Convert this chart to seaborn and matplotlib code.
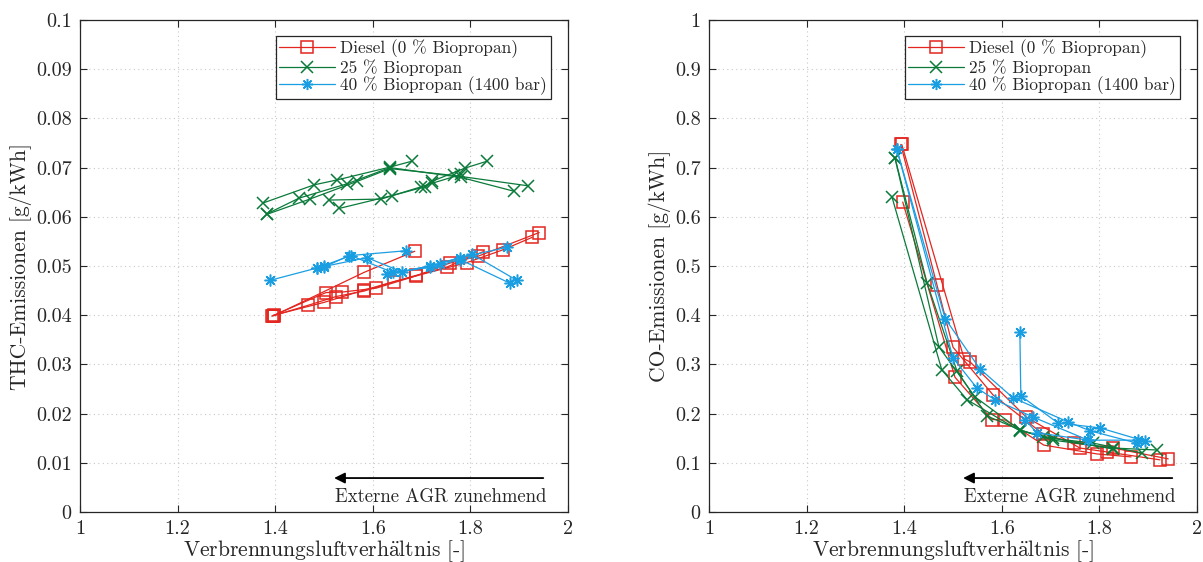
import numpy as np
import pandas as pd
import seaborn as sns
import matplotlib
matplotlib.use('Agg')
from matplotlib import pyplot as plt
from matplotlib.lines import Line2D

# ---- data ----
fuels = ['Diesel (0 % Biopropan)', '25 % Biopropan', '40 % Biopropan (1400 bar)']
colors = ['#e3261f', '#0a7a3a', '#1a9ee2']
markers = ['s', 'x', (8, 2, 0)]

# THC, left panel: each sweep = one AGR variation
thc_diesel_lam = [
    [1.686, 1.582, 1.397],
    [1.941, 1.816, 1.758, 1.689, 1.607, 1.537, 1.504, 1.395],
    [1.926, 1.867, 1.793, 1.643, 1.582, 1.525, 1.467, 1.393],
    [1.826, 1.752, 1.689, 1.582, 1.500, 1.397],
]
thc_diesel_val = [
    [0.0530, 0.0487, 0.0399],
    [0.0568, 0.0520, 0.0506, 0.0480, 0.0455, 0.0447, 0.0446, 0.0399],
    [0.0558, 0.0533, 0.0507, 0.0468, 0.0449, 0.0438, 0.0420, 0.0398],
    [0.0529, 0.0498, 0.0481, 0.0451, 0.0426, 0.0400],
]
thc_25_lam = [
    [1.680, 1.635, 1.527, 1.480, 1.375],
    [1.918, 1.766, 1.635, 1.568, 1.471, 1.383],
    [1.889, 1.781, 1.635, 1.547, 1.449, 1.383],
    [1.834, 1.789, 1.721, 1.707, 1.639, 1.531],
    [1.781, 1.721, 1.699, 1.617, 1.510],
]
thc_25_val = [
    [0.0713, 0.0701, 0.0675, 0.0665, 0.0628],
    [0.0663, 0.0684, 0.0698, 0.0672, 0.0636, 0.0605],
    [0.0652, 0.0680, 0.0700, 0.0667, 0.0638, 0.0606],
    [0.0713, 0.0699, 0.0672, 0.0661, 0.0643, 0.0617],
    [0.0686, 0.0668, 0.0661, 0.0636, 0.0634],
]
thc_40_lam = [
    [1.668, 1.551, 1.500, 1.486, 1.390],
    [1.895, 1.803, 1.738, 1.660, 1.588, 1.500],
    [1.881, 1.779, 1.717, 1.641, 1.555, 1.486],
    [1.875, 1.779, 1.717, 1.629],
]
thc_40_val = [
    [0.0531, 0.0521, 0.0498, 0.0496, 0.0471],
    [0.0471, 0.0524, 0.0505, 0.0488, 0.0517, 0.0499],
    [0.0465, 0.0513, 0.0497, 0.0487, 0.0521, 0.0496],
    [0.0538, 0.0517, 0.0500, 0.0483],
]

# CO, right panel
co_diesel_lam = [
    [1.941, 1.828, 1.748, 1.684, 1.582, 1.500, 1.467, 1.393],
    [1.924, 1.816, 1.760, 1.650, 1.535, 1.523, 1.395],
    [1.865, 1.795, 1.686, 1.607, 1.580, 1.504, 1.397],
]
co_diesel_val = [
    [0.108, 0.130, 0.140, 0.159, 0.238, 0.335, 0.462, 0.747],
    [0.106, 0.122, 0.130, 0.193, 0.305, 0.311, 0.747],
    [0.112, 0.118, 0.136, 0.187, 0.188, 0.274, 0.630],
]
co_25_lam = [
    [1.918, 1.828, 1.705, 1.637, 1.570, 1.508, 1.447, 1.381],
    [1.887, 1.787, 1.684, 1.637, 1.545, 1.471, 1.381],
    [1.828, 1.705, 1.637, 1.529, 1.477, 1.375],
]
co_25_val = [
    [0.126, 0.130, 0.146, 0.167, 0.195, 0.287, 0.465, 0.720],
    [0.120, 0.140, 0.152, 0.167, 0.234, 0.336, 0.720],
    [0.128, 0.150, 0.165, 0.228, 0.289, 0.640],
]
co_40_lam = [
    [1.893, 1.801, 1.715, 1.639, 1.637],
    [1.877, 1.781, 1.736, 1.623, 1.555, 1.484, 1.385],
    [1.880, 1.777, 1.664, 1.586, 1.549, 1.500, 1.385],
    [1.777, 1.672, 1.648],
]
co_40_val = [
    [0.144, 0.171, 0.181, 0.236, 0.365],
    [0.140, 0.165, 0.183, 0.232, 0.291, 0.393, 0.737],
    [0.146, 0.146, 0.193, 0.228, 0.252, 0.313, 0.737],
    [0.146, 0.161, 0.187],
]

x_ticks = [1.0, 1.2, 1.4, 1.6, 1.8, 2.0]
x_ticklabels = ['1', '1.2', '1.4', '1.6', '1.8', '2']
thc_ticks = [0, 0.01, 0.02, 0.03, 0.04, 0.05, 0.06, 0.07, 0.08, 0.09, 0.1]
thc_ticklabels = ['0', '0.01', '0.02', '0.03', '0.04', '0.05', '0.06', '0.07', '0.08', '0.09', '0.1']
co_ticks = [0, 0.1, 0.2, 0.3, 0.4, 0.5, 0.6, 0.7, 0.8, 0.9, 1.0]
co_ticklabels = ['0', '0.1', '0.2', '0.3', '0.4', '0.5', '0.6', '0.7', '0.8', '0.9', '1']


def to_frame(lams, vals):
    rows = []
    for i, (l, v) in enumerate(zip(lams, vals)):
        for a, b in zip(l, v):
            rows.append((i, a, b))
    return pd.DataFrame(rows, columns=['sweep', 'lam', 'val'])


sns.set_style('ticks')
plt.rcParams['font.family'] = ['cmr10', 'DejaVu Serif']
plt.rcParams['mathtext.fontset'] = 'cm'
plt.rcParams['axes.formatter.use_mathtext'] = True
plt.rcParams['axes.unicode_minus'] = False

fig = plt.figure(figsize=(12.03, 5.62), dpi=100)
ax_l = fig.add_axes([80 / 1203, 50 / 562, 488 / 1203, 492 / 562])
ax_r = fig.add_axes([709 / 1203, 50 / 562, 488 / 1203, 492 / 562])

panels = [
    (ax_l, [(thc_diesel_lam, thc_diesel_val), (thc_25_lam, thc_25_val), (thc_40_lam, thc_40_val)],
     thc_ticks, thc_ticklabels, 'THC-Emissionen [g/kWh]', 0.1),
    (ax_r, [(co_diesel_lam, co_diesel_val), (co_25_lam, co_25_val), (co_40_lam, co_40_val)],
     co_ticks, co_ticklabels, 'CO-Emissionen [g/kWh]', 1.0),
]

for ax, series, yt, ytl, ylabel, ymax in panels:
    for (lams, vals), color, marker in zip(series, colors, markers):
        df = to_frame(lams, vals)
        ms = 8 if marker == 's' else 8.5
        sns.lineplot(data=df, x='lam', y='val', units='sweep', estimator=None, sort=False,
                     ax=ax, color=color, marker=marker, markersize=ms, linewidth=0.9,
                     markerfacecolor='none', markeredgecolor=color, markeredgewidth=1.1)
    ax.set_xlim(1, 2)
    ax.set_ylim(0, ymax)
    ax.set_xticks(x_ticks)
    ax.set_xticklabels(x_ticklabels)
    ax.set_yticks(yt)
    ax.set_yticklabels(ytl)
    ax.set_xlabel(r'Verbrennungsluftverh$\ddot{\mathrm{a}}$ltnis [-]', fontsize=15.5, labelpad=0)
    ax.set_ylabel(ylabel, fontsize=15.5, labelpad=3)
    ax.grid(True, color='#c8c8c8', linestyle=(0, (1, 3)), linewidth=0.8)
    ax.tick_params(direction='in', top=True, right=True, length=5, width=0.8,
                   labelsize=14.5, pad=6, colors='#262626')
    for s in ax.spines.values():
        s.set_visible(True)
        s.set_linewidth(0.9)
        s.set_color('#262626')

    handles = [Line2D([], [], color=c, marker=m, markersize=8, linewidth=0.9,
                      markerfacecolor='none', markeredgecolor=c, markeredgewidth=1.1)
               for c, m in zip(colors, markers)]
    leg = ax.legend(handles, fuels, loc='upper right', bbox_to_anchor=(0.975, 0.978),
                    fontsize=12.5, frameon=True, fancybox=False, framealpha=1,
                    edgecolor='#262626', borderpad=0.2, labelspacing=0.05,
                    handlelength=3.2, handletextpad=0.3, borderaxespad=0.3)
    leg.get_frame().set_linewidth(0.9)

    ay = 0.069 * ymax
    ax.annotate('', xy=(1.515, ay), xytext=(1.955, ay),
                arrowprops=dict(arrowstyle='-|>', color='black', lw=1.3, mutation_scale=16))
    ax.text(1.955, 0.031 * ymax, 'Externe AGR zunehmend', ha='right', va='center', fontsize=13.5)

fig.savefig('out.png', dpi=100)
